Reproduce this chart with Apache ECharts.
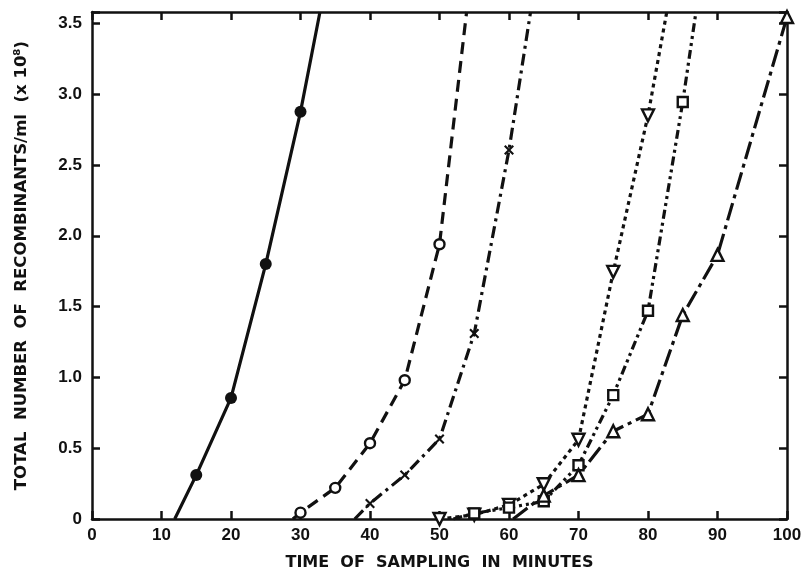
<!DOCTYPE html>
<html>
<head>
<meta charset="utf-8">
<script src="https://cdn.jsdelivr.net/npm/echarts@6/dist/echarts.min.js"></script>
<style>
  html, body { margin: 0; padding: 0; background: #fff; }
  #container { width: 801px; height: 570px; }
</style>
</head>
<body>
<div id="container"></div>
<script>
// measured points [minute, recombinants x10^8]
var solidPts = [[15, 0.31], [20, 0.855], [25, 1.80], [30, 2.875]];
var solidEnds = [[11.9, 0], [32.8, 3.58]];

var circlePts = [[30, 0.045], [35, 0.22], [40, 0.535], [45, 0.98], [50, 1.94]];
var circleEnds = [[28.9, 0], [53.9, 3.58]];

var crossPts = [[40, 0.11], [45, 0.31], [50, 0.565], [55, 1.31], [60, 2.605]];
var crossEnds = [[37.8, 0], [63.1, 3.58]];

var vPts = [[50, 0.0], [55, 0.03], [60, 0.10], [65, 0.245], [70, 0.56], [75, 1.745], [80, 2.85]];
var vEnds = [null, [82.7, 3.58]];

var squarePts = [[55, 0.04], [60, 0.08], [65, 0.125], [70, 0.38], [75, 0.875], [80, 1.47], [85, 2.945]];
var squareEnds = [[52, 0], [86.9, 3.58]];

var trianglePts = [[65, 0.165], [70, 0.31], [75, 0.62], [80, 0.74], [85, 1.44], [90, 1.865], [100, 3.545]];
var triangleEnds = [[60.6, 0], null];

var xTicks = [0, 10, 20, 30, 40, 50, 60, 70, 80, 90, 100];
var yTicks = [0, 0.5, 1.0, 1.5, 2.0, 2.5, 3.0, 3.5];

var TICK_FONT = 'Liberation Sans';
var TITLE_FONT = 'DejaVu Sans';
var INK = '#111';

function buildData(pts, ends) {
    var out = [];
    if (ends[0]) out.push({ value: ends[0], symbol: 'none' });
    pts.forEach(function (p) { out.push(p); });
    if (ends[1]) out.push({ value: ends[1], symbol: 'none' });
    return out;
}

function makeSeries(pts, ends, dash, symbol, size, filled, rotate) {
    return {
        type: 'line',
        data: buildData(pts, ends),
        symbol: symbol,
        symbolSize: size,
        symbolRotate: rotate || 0,
        showAllSymbol: true,
        clip: true,
        animation: false,
        lineStyle: { color: INK, width: 3.2, type: dash },
        itemStyle: {
            color: filled ? INK : '#fff',
            borderColor: INK,
            borderWidth: filled ? 0 : 2.4
        },
        z: 3
    };
}

var crossPath = 'path://M0,1.5L1.5,0L5,3.5L8.5,0L10,1.5L6.5,5L10,8.5L8.5,10L5,6.5L1.5,10L0,8.5L3.5,5Z';

var labelFmt = function (v) {
    for (var i = 0; i < yTicks.length; i++) {
        if (Math.abs(v - yTicks[i]) < 1e-6) return v === 0 ? '0' : v.toFixed(1);
    }
    return '';
};

var myChart = echarts.init(document.getElementById('container'), null, { renderer: 'canvas' });

var frameLine = { show: true, onZero: false, lineStyle: { color: INK, width: 2.5 } };
var innerTick = { show: true, inside: true, length: 8, lineStyle: { color: INK, width: 2.5 } };

var option = {
    backgroundColor: '#fff',
    animation: false,
    grid: { left: 92, right: 14, top: 12, bottom: 51, outerBoundsMode: 'none', containLabel: false },
    xAxis: [{
        type: 'value',
        min: xTicks[0],
        max: xTicks[xTicks.length - 1],
        interval: 10,
        position: 'bottom',
        axisLine: frameLine,
        axisTick: innerTick,
        splitLine: { show: false },
        axisLabel: {
            color: INK, fontFamily: TICK_FONT, fontWeight: 'bold', fontSize: 17, margin: 8
        },
        name: 'TIME  OF  SAMPLING  IN  MINUTES',
        nameLocation: 'middle',
        nameGap: 36,
        nameTextStyle: { color: INK, fontFamily: TITLE_FONT, fontWeight: 'bold', fontSize: 16 }
    }, {
        type: 'value',
        min: xTicks[0],
        max: xTicks[xTicks.length - 1],
        interval: 10,
        position: 'top',
        axisLine: frameLine,
        axisTick: innerTick,
        splitLine: { show: false },
        axisLabel: { show: false }
    }],
    yAxis: [{
        type: 'value',
        min: 0,
        max: 3.58,
        interval: 0.5,
        position: 'left',
        axisLine: frameLine,
        axisTick: innerTick,
        splitLine: { show: false },
        axisLabel: {
            color: INK, fontFamily: TICK_FONT, fontWeight: 'bold', fontSize: 17, margin: 10,
            formatter: labelFmt
        },
        name: 'TOTAL  NUMBER  OF  RECOMBINANTS/ml  (x 10\u2078)',
        nameLocation: 'middle',
        nameGap: 62,
        nameRotate: 90,
        nameTextStyle: { color: INK, fontFamily: TITLE_FONT, fontWeight: 'bold', fontSize: 16.5 }
    }, {
        type: 'value',
        min: 0,
        max: 3.58,
        interval: 0.5,
        position: 'right',
        axisLine: frameLine,
        axisTick: innerTick,
        splitLine: { show: false },
        axisLabel: { show: false }
    }],
    series: [
        makeSeries(solidPts, solidEnds, 'solid', 'circle', 12, true),
        makeSeries(circlePts, circleEnds, [12, 7], 'circle', 10, false),
        makeSeries(crossPts, crossEnds, [12, 5, 3, 5], crossPath, 10, true),
        makeSeries(vPts, vEnds, [4, 4], 'triangle', 12, false, 180),
        makeSeries(squarePts, squareEnds, [9, 4, 3, 4, 3, 4], 'rect', 10, false),
        makeSeries(trianglePts, triangleEnds, [18, 5, 4, 5], 'triangle', 12, false)
    ]
};

myChart.setOption(option);
</script>
</body>
</html>
